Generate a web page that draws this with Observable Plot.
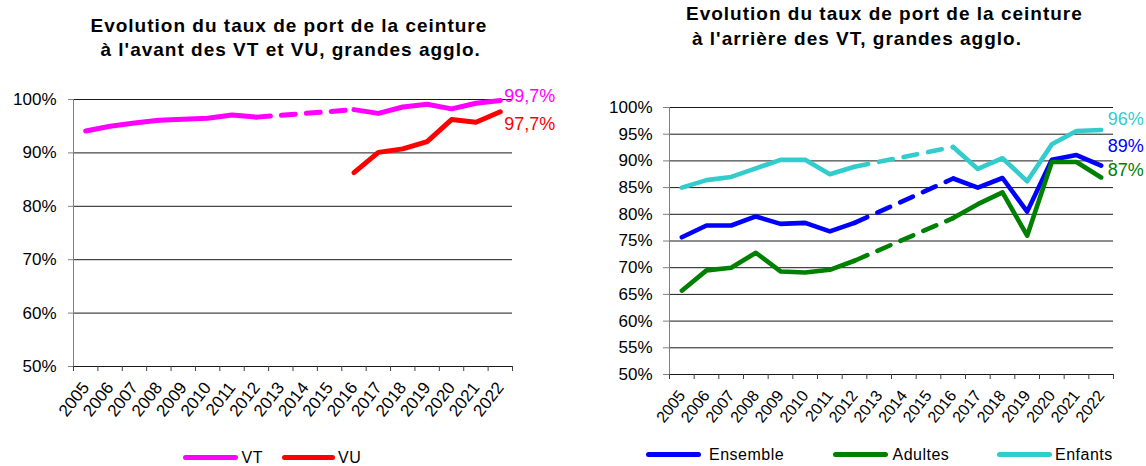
<!DOCTYPE html>
<html><head><meta charset="utf-8">
<script src="https://cdn.jsdelivr.net/npm/d3@7"></script>
<script src="https://cdn.jsdelivr.net/npm/@observablehq/plot@0.6"></script>
<style>
body{margin:0;background:#fff;font-family:"Liberation Sans",Arial,sans-serif;}
#wrap{position:relative;width:1146px;height:466px;overflow:hidden;background:#fff;}
.chart{position:absolute;top:0}
.t{position:absolute;font-weight:bold;font-size:19px;line-height:18px;white-space:pre;color:#000;letter-spacing:1px}
.sw{position:absolute;height:5px;border-radius:3px}
.lg{position:absolute;font-size:16px;line-height:16px;white-space:pre;color:#000;letter-spacing:0.5px}
</style></head><body><div id="wrap"></div>
<script>
// ---- data ----
const years = [2005,2006,2007,2008,2009,2010,2011,2012,2013,2014,2015,2016,2017,2018,2019,2020,2021,2022];
// left chart (front seats)
const vt = [94.1,95.0,95.6,96.1,96.3,96.5,97.1,96.7,null,null,null,98.1,97.4,98.6,99.1,98.25,99.3,99.8];
const vu = [null,null,null,null,null,null,null,null,null,null,null,86.3,90.1,90.75,92.1,96.25,95.75,97.7];
const leftNames = ["VT","VU"];
const leftEndLabels = ["99,7%","97,7%"];
const leftYTicks = [50,60,70,80,90,100];
// right chart (rear seats)
const ensemble = [75.7,77.9,77.9,79.6,78.2,78.4,76.8,78.4,null,null,null,86.7,85.0,86.8,80.5,90.2,91.1,89.1];
const adultes  = [65.7,69.5,70.0,72.8,69.3,69.1,69.6,71.3,null,null,null,79.3,81.9,84.1,76.0,89.8,89.8,86.9];
const enfants  = [85.0,86.4,87.0,88.6,90.2,90.2,87.5,88.9,null,null,null,92.6,88.5,90.5,86.2,93.1,95.6,95.8];
const rightNames = ["Ensemble","Adultes","Enfants"];
const rightEndLabels = ["89%","87%","96%"];
const rightYTicks = [50,55,60,65,70,75,80,85,90,95,100];
const titleLeft = ["Evolution du taux de port de la ceinture","à l'avant des VT et VU, grandes agglo."];
const titleRight = ["Evolution du taux de port de la ceinture","à l'arrière des VT, grandes agglo."];

// ---- helpers ----
const FONT = '"Liberation Sans", Arial, sans-serif';
const rows = vals => years.map((year,i)=>({year, value: vals[i] == null ? NaN : vals[i]}));
function bridges(vals){
  const out=[]; let last=-1;
  vals.forEach((v,i)=>{
    if(v!=null){
      if(last>=0 && i-last>1){
        out.push({year:years[last],value:vals[last],g:i},{year:years[i],value:v,g:i});
      }
      last=i;
    }
  });
  return out;
}
function seriesMarks(vals,color,label,sw,dx,dy){
  const r = rows(vals);
  let li = -1; vals.forEach((v,i)=>{ if(v!=null) li=i; });
  return [
    Plot.line(bridges(vals),{x:"year",y:"value",z:"g",stroke:color,strokeWidth:sw,strokeDasharray:"14,11",strokeLinecap:"round"}),
    Plot.line(r,{x:"year",y:"value",stroke:color,strokeWidth:sw,strokeLinecap:"round",strokeLinejoin:"round"}),
    Plot.text([{...r[li],label}],{x:"year",y:"value",text:"label",fill:color,fontSize:18,textAnchor:"start",lineAnchor:"bottom",dx,dy})
  ];
}
const bounds = years.map(y=>y-0.5).concat([years[years.length-1]+0.5]);

function chart(opts){
  return Plot.plot({
    width:573,height:466,
    marginLeft:opts.ml,marginRight:opts.mr,marginTop:opts.mt,marginBottom:opts.mb,
    x:{type:"linear",domain:[bounds[0],bounds[bounds.length-1]],label:null},
    y:{domain:[50,100],label:null},
    style:{fontFamily:FONT,background:"transparent",color:"#000",overflow:"visible"},
    marks:[
      Plot.gridY(opts.yTicks,{stroke:"#1a1a1a",strokeOpacity:1,strokeWidth:1}),
      Plot.ruleX([bounds[0]],{stroke:"#808080",strokeWidth:1}),
      Plot.axisY(opts.yTicks,{tickFormat:d=>d+"%",tickSize:opts.ts,tickPadding:opts.tp,stroke:"#808080",fill:"#000",fontSize:17,label:null}),
      Plot.axisX(bounds,{tickSize:5,tickFormat:()=>"",stroke:"#404040",label:null}),
      Plot.axisX(years,{tickSize:0,tickPadding:opts.xp,tickRotate:-52,tickFormat:d=>String(d),fill:"#000",fontSize:opts.xfs,label:null}),
      ...opts.series
    ]
  });
}

const wrap = document.getElementById("wrap");
const left = chart({ml:73,mr:61,mt:99,mb:100,ts:5,tp:12,xp:18,xfs:17,yTicks:leftYTicks,
  series:[
    ...seriesMarks(vt,"#ff00ff",leftEndLabels[0],5,4,1),
    ...seriesMarks(vu,"#ff0000",leftEndLabels[1],5,4,18)
  ]});
left.classList.add("chart"); left.style.left="0px";
wrap.appendChild(left);

const right = chart({ml:96,mr:33,mt:107,mb:92,ts:6,tp:11,xp:18,xfs:16,yTicks:rightYTicks,
  series:[
    ...seriesMarks(ensemble,"#0000ff",rightEndLabels[0],4.6,6.5,-14),
    ...seriesMarks(adultes,"#008000",rightEndLabels[1],4.6,6.5,-1),
    ...seriesMarks(enfants,"#33cccc",rightEndLabels[2],4.6,6.5,-5)
  ]});
right.classList.add("chart"); right.style.left="573px";
wrap.appendChild(right);

function addDiv(cls,text,left,top,extra){
  const d=document.createElement("div"); d.className=cls; d.textContent=text;
  d.style.left=left+"px"; d.style.top=top+"px";
  if(extra) Object.assign(d.style,extra);
  wrap.appendChild(d); return d;
}
// titles
addDiv("t",titleLeft[0],90.5,16.5);
addDiv("t",titleLeft[1],100.5,41);
addDiv("t",titleRight[0],686,4.5);
addDiv("t",titleRight[1],692,29.5);
// legends
function swatch(color,x1,x2,cy){ addDiv("sw","",x1,cy-2.5,{width:(x2-x1)+"px",background:color}); }
swatch("#ff00ff",183,238,457.5); addDiv("lg",leftNames[0],241.5,449.5);
swatch("#ff0000",282,335,457.5); addDiv("lg",leftNames[1],338,449.5);
swatch("#0000ff",646,701,454.5); addDiv("lg",rightNames[0],709,447);
swatch("#008000",833,888,454.5); addDiv("lg",rightNames[1],892.5,447);
swatch("#33cccc",997,1052,454.5); addDiv("lg",rightNames[2],1055,447);
</script></body></html>
